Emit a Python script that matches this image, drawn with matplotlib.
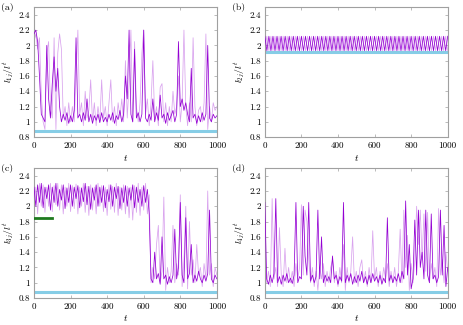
import matplotlib
matplotlib.use('Agg')
import matplotlib.pyplot as plt
import numpy as np

plt.rcParams['font.family'] = 'serif'
plt.rcParams['font.serif'] = ['cmr10', 'DejaVu Serif']
plt.rcParams['mathtext.fontset'] = 'cm'
plt.rcParams['axes.unicode_minus'] = False

# sampled time grid (every 10 steps)
t = np.arange(101) * 10

a_dark = [2.15, 2.2, 2.05, 1.6, 1.1, 1.05, 1.0, 2.0, 1.3, 1.05,
          1.5, 1.85, 1.4, 1.7, 1.2, 1.0, 1.1, 1.02, 1.12, 0.98,
          1.08, 1.0, 1.15, 2.1, 1.05, 1.1, 1.0, 1.12, 1.02, 1.3,
          1.0, 1.1, 0.98, 1.08, 1.02, 1.1, 0.99, 1.12, 1.0, 1.06,
          1.0, 1.1, 1.02, 1.12, 0.98, 1.08, 1.03, 1.15, 1.0, 1.1,
          1.6, 1.3, 2.2, 1.1, 1.0, 1.95, 1.05, 1.12, 1.0, 1.1,
          2.2, 1.05, 1.0, 1.1, 1.02, 1.3, 1.0, 1.12, 1.02, 1.35,
          1.05, 1.1, 0.98, 1.12, 1.02, 1.08, 1.15, 1.0, 1.1, 2.05,
          1.2, 1.3, 1.15, 1.25, 1.1, 1.0, 1.7, 1.05, 1.1, 0.98,
          1.08, 1.0, 1.12, 1.02, 1.1, 2.0, 1.05, 1.0, 1.1, 1.05, 1.08]
a_light = [2.05, 2.15, 1.95, 2.1, 1.35, 1.0, 0.9, 1.9, 2.05, 1.2,
           1.05, 2.1, 0.9, 1.9, 2.15, 1.95, 1.05, 1.2, 0.95, 1.25,
           1.0, 1.2, 1.0, 1.6, 2.2, 1.1, 1.25, 0.95, 1.4, 1.05,
           1.15, 1.55, 1.0, 1.25, 0.95, 1.2, 1.0, 1.55, 1.05, 1.2,
           0.95, 1.25, 1.55, 1.0, 1.2, 0.95, 1.25, 1.05, 1.3, 1.0,
           1.8, 1.05, 1.5, 2.2, 1.0, 2.05, 1.2, 1.0, 1.25, 1.9,
           2.2, 1.1, 1.3, 0.95, 1.25, 1.8, 1.05, 1.2, 0.95, 1.45,
           1.5, 1.0, 1.25, 0.95, 1.2, 1.0, 1.4, 1.1, 1.2, 1.6,
           1.0, 1.25, 2.2, 1.2, 0.95, 1.25, 1.0, 2.1, 1.2, 0.95,
           1.15, 1.2, 1.0, 1.25, 2.15, 0.9, 1.2, 1.0, 1.25, 1.15, 1.2]

# panel (b): regular oscillation, 91 samples
tb = np.linspace(0, 1000, 91)
b_dark = [2.12, 1.93, 2.12, 1.93, 2.12, 1.93, 2.12, 1.93, 2.12, 1.93,
          2.12, 1.93, 2.12, 1.93, 2.12, 1.93, 2.12, 1.93, 2.12, 1.93,
          2.12, 1.93, 2.12, 1.93, 2.12, 1.93, 2.12, 1.93, 2.12, 1.93,
          2.12, 1.93, 2.12, 1.93, 2.12, 1.93, 2.12, 1.93, 2.12, 1.93,
          2.12, 1.93, 2.12, 1.93, 2.12, 1.93, 2.12, 1.93, 2.12, 1.93,
          2.12, 1.93, 2.12, 1.93, 2.12, 1.93, 2.12, 1.93, 2.12, 1.93,
          2.12, 1.93, 2.12, 1.93, 2.12, 1.93, 2.12, 1.93, 2.12, 1.93,
          2.12, 1.93, 2.12, 1.93, 2.12, 1.93, 2.12, 1.93, 2.12, 1.93,
          2.12, 1.93, 2.12, 1.93, 2.12, 1.93, 2.12, 1.93, 2.12, 1.93, 2.12]
b_light = [1.93, 2.12, 1.93, 2.12, 1.93, 2.12, 1.93, 2.12, 1.93, 2.12,
           1.93, 2.12, 1.93, 2.12, 1.93, 2.12, 1.93, 2.12, 1.93, 2.12,
           1.93, 2.12, 1.93, 2.12, 1.93, 2.12, 1.93, 2.12, 1.93, 2.12,
           1.93, 2.12, 1.93, 2.12, 1.93, 2.12, 1.93, 2.12, 1.93, 2.12,
           1.93, 2.12, 1.93, 2.12, 1.93, 2.12, 1.93, 2.12, 1.93, 2.12,
           1.93, 2.12, 1.93, 2.12, 1.93, 2.12, 1.93, 2.12, 1.93, 2.12,
           1.93, 2.12, 1.93, 2.12, 1.93, 2.12, 1.93, 2.12, 1.93, 2.12,
           1.93, 2.12, 1.93, 2.12, 1.93, 2.12, 1.93, 2.12, 1.93, 2.12,
           1.93, 2.12, 1.93, 2.12, 1.93, 2.12, 1.93, 2.12, 1.93, 2.12, 1.93]

c_dark = [2.25, 2.0, 2.28, 2.05, 2.3, 1.98, 2.25, 2.1, 2.28, 1.95,
          2.25, 2.05, 2.3, 2.0, 2.22, 2.08, 2.28, 1.97, 2.24, 2.05,
          2.28, 2.0, 2.25, 2.1, 2.27, 1.98, 2.24, 2.06, 2.3, 2.02,
          2.26, 1.96, 2.24, 2.08, 2.28, 2.0, 2.25, 2.05, 2.27, 1.98,
          2.22, 2.06, 2.28, 2.0, 2.25, 2.1, 2.26, 1.97, 2.24, 2.05,
          2.27, 2.0, 2.24, 2.08, 2.28, 1.98, 2.25, 2.05, 2.22, 2.0,
          2.27, 2.05, 2.22, 1.9, 1.05, 1.0, 1.4, 1.05, 1.12, 0.98,
          1.6, 1.05, 1.1, 0.98, 1.08, 1.0, 1.1, 1.7, 1.05, 1.2,
          2.05, 1.1, 1.0, 1.85, 1.05, 1.12, 1.5, 1.0, 1.1, 1.02,
          1.15, 1.05, 1.0, 1.1, 1.02, 1.12, 1.95, 1.05, 1.0, 1.1, 1.05]
c_light = [1.95, 2.25, 1.9, 2.3, 2.0, 2.28, 1.92, 2.25, 2.0, 2.3,
           1.93, 2.27, 2.02, 2.3, 1.95, 2.28, 1.9, 2.25, 2.0, 2.3,
           1.93, 2.27, 1.97, 2.29, 1.9, 2.25, 2.0, 2.3, 1.92, 2.26,
           1.88, 2.28, 1.95, 2.25, 1.9, 2.3, 2.0, 2.27, 1.93, 2.25,
           1.88, 2.28, 1.96, 2.26, 1.92, 2.3, 1.88, 2.25, 1.95, 2.28,
           1.9, 2.26, 1.85, 2.25, 1.82, 2.27, 1.92, 2.3, 1.88, 2.25,
           1.95, 2.3, 1.9, 2.15, 1.0, 1.2, 1.05, 1.5, 1.75, 1.0,
           1.15, 2.12, 0.9, 1.2, 1.0, 1.15, 1.75, 1.0, 1.25, 1.1,
           2.15, 0.95, 1.3, 2.0, 0.92, 1.8, 1.1, 1.3, 1.0, 1.5,
           1.1, 1.2, 0.95, 1.25, 1.05, 2.2, 1.1, 1.25, 0.95, 1.2, 1.1]

d_dark = [2.05, 1.05, 0.98, 1.1, 1.0, 1.12, 2.1, 1.0, 1.08, 0.98,
          1.1, 1.02, 1.12, 1.0, 1.06, 0.99, 1.1, 2.05, 1.0, 1.08,
          1.05, 2.0, 1.35, 1.1, 2.05, 1.02, 1.1, 1.0, 1.08, 1.95,
          1.05, 1.6, 1.0, 1.1, 1.02, 1.08, 1.0, 1.35, 1.05, 1.1,
          0.98, 1.08, 1.02, 2.05, 1.0, 1.1, 1.02, 1.12, 0.98, 1.08,
          1.0, 1.1, 1.02, 1.15, 1.0, 1.08, 0.98, 1.1, 1.0, 1.12,
          1.02, 1.08, 1.0, 1.1, 0.98, 1.06, 1.0, 1.85, 1.02, 1.1,
          1.0, 1.08, 1.02, 1.12, 1.0, 1.15, 1.05, 2.07, 1.1, 1.5,
          0.92, 1.05, 1.82, 1.1, 1.95, 1.2, 1.4, 1.05, 1.95, 1.1,
          1.0, 1.9, 1.05, 1.1, 1.0, 1.08, 1.95, 1.1, 1.75, 0.95, 1.2]
d_light = [1.4, 1.0, 1.15, 0.95, 2.1, 1.05, 1.2, 0.95, 1.72, 1.1,
           0.95, 1.45, 1.0, 1.2, 1.0, 1.15, 0.95, 1.25, 1.05, 1.2,
           2.02, 1.1, 1.95, 1.8, 1.3, 1.0, 1.2, 0.95, 1.15, 0.9,
           1.2, 1.05, 1.25, 0.95, 1.15, 1.0, 1.2, 1.3, 1.0, 1.15,
           0.95, 1.2, 1.0, 1.5, 0.9, 1.2, 1.0, 1.15, 1.6, 1.0,
           1.15, 0.95, 1.2, 1.3, 1.0, 1.15, 0.95, 1.2, 1.0, 1.68,
           1.05, 1.2, 0.95, 1.15, 1.0, 1.2, 1.05, 1.25, 0.95, 1.15,
           1.0, 1.2, 0.95, 1.15, 1.7, 1.0, 1.95, 1.2, 1.62, 0.9,
           1.25, 1.0, 1.3, 2.0, 1.5, 1.95, 1.3, 1.9, 1.15, 1.92,
           1.0, 1.25, 1.05, 1.2, 0.95, 1.97, 1.1, 1.3, 1.0, 1.4, 1.15]

# reference levels
ref_level = {'a': 0.875, 'b': 1.91, 'c': 0.875, 'd': 0.875}
c_green_level = 1.85
c_green_end = 100

yticks = [0.8, 1.0, 1.2, 1.4, 1.6, 1.8, 2.0, 2.2, 2.4]
ytick_labels = ['0.8', '1', '1.2', '1.4', '1.6', '1.8', '2', '2.2', '2.4']
xticks = [0, 200, 400, 600, 800, 1000]
ylabels = {'a': r'$l_{1j}/l^t$', 'b': r'$l_{2j}/l^t$',
           'c': r'$l_{3j}/l^t$', 'd': r'$l_{4j}/l^t$'}

dark = '#9400d3'
light = '#d9a3ee'
cyan = '#86cde6'
green = '#1f7a1f'
spine_col = '#a0a0a0'

fig = plt.figure(figsize=(4.63, 3.25), dpi=100)
pos = {'a': [0.0734, 0.578, 0.395, 0.40],
       'b': [0.572, 0.578, 0.395, 0.40],
       'c': [0.0734, 0.083, 0.395, 0.40],
       'd': [0.572, 0.083, 0.395, 0.40]}
series = {'a': (t, a_dark, a_light), 'b': (tb, b_dark, b_light),
          'c': (t, c_dark, c_light), 'd': (t, d_dark, d_light)}

for key in ['a', 'b', 'c', 'd']:
    ax = fig.add_axes(pos[key])
    tt, yd, yl = series[key]
    ax.axhline(ref_level[key], color=cyan, lw=2.2, zorder=1)
    ax.plot(tt, yl, color=light, lw=0.55, zorder=2)
    ax.plot(tt, yd, color=dark, lw=0.55, zorder=3)
    if key == 'c':
        ax.plot([0, c_green_end], [c_green_level, c_green_level], color=green, lw=2, zorder=4)

    ax.set_xlim(0, 1000)
    ax.set_ylim(0.8, 2.5)
    ax.set_xticks(xticks)
    ax.set_xticklabels([str(x) for x in xticks])
    ax.set_yticks(yticks)
    ax.set_yticklabels(ytick_labels)
    ax.tick_params(direction='in', length=2, width=0.5, color=spine_col,
                   labelsize=6.5, pad=3, top=True, right=True)
    for sp in ax.spines.values():
        sp.set_color(spine_col)
        sp.set_linewidth(0.8)
    ax.set_xlabel(r'$t$', fontsize=7, labelpad=2)
    ax.set_ylabel(ylabels[key], fontsize=7)
    ax.yaxis.set_label_coords(-0.1, 0.5)
    ax.text(-0.145, 1.0, '(%s)' % key, transform=ax.transAxes,
            fontsize=7, ha='center', va='center')

plt.savefig('out.png', dpi=100)
